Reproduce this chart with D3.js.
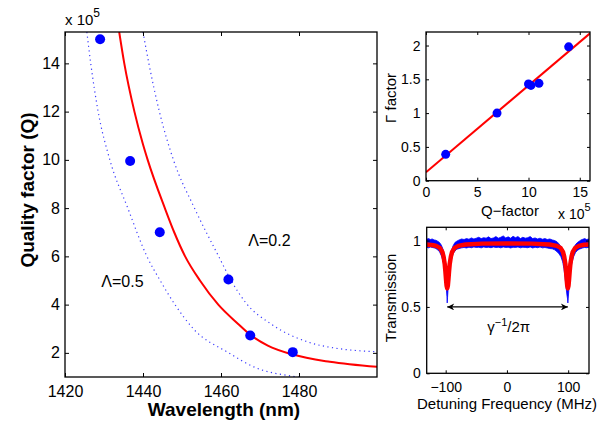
<!DOCTYPE html>
<html lang="en">
<head>
    <meta charset="UTF-8">
    <title>Quality factor</title>
    <script src="https://d3js.org/d3.v7.min.js"></script>
    <style>
        body { margin: 0; background: #fff; }
        svg { display: block; font-family: "Liberation Sans", Arial, sans-serif; }
        .frame { fill: none; stroke: black; stroke-width: 1.3; }
        .tick line { stroke: black; stroke-width: 1; }
        .tick text { fill: black; }
        .domain { display: none; }
    </style>
</head>
<body>
<script>
    const width = 616;
    const height = 426;

    // main panel: measured points
    const wavelength = [1429, 1436.7, 1444.3, 1461.9, 1467.5, 1478.4];
    const quality    = [15.0, 9.95, 7.0, 5.04, 2.72, 2.03];

    // main panel: fit curve and the two bounding curves
    const fitCurve = [[1433.9,15.3],[1435.2,14],[1437.8,12],[1439.9,10.7],[1441.2,10],[1445.6,8],
        [1448,7],[1450.8,6],[1454.6,5],[1459.3,4],[1464.4,3.2],[1467.5,2.75],[1472,2.3],
        [1478.4,1.93],[1487.9,1.63],[1500,1.42]];
    const lambda02 = [[1440,15.3],[1441.5,14],[1444.2,12],[1447.8,10],[1453.2,8],[1459.4,6],
        [1462.6,5],[1466.4,4.07],[1472.8,3.2],[1482.3,2.45],[1490,2.18],[1497.3,2.07],[1500,2.05]];
    const lambda05 = [[1425.6,15.3],[1426.6,14],[1428.5,12],[1431.5,10],[1436.1,8],[1441,6],
        [1444.4,5],[1448.2,4],[1452.9,3],[1462,2],[1468.4,1.42],[1479.5,1.0],[1490,0.8]];
    const mainXTicks = [1420, 1440, 1460, 1480];
    const mainYTicks = [2, 4, 6, 8, 10, 12, 14];

    // top right panel: gamma vs Q
    const qFactor = [1.92, 6.93, 10.0, 10.24, 11.02, 13.92];
    const gammaF  = [0.39, 1.0, 1.43, 1.41, 1.44, 1.98];
    const gammaFitQ = [0, 16];
    const gammaFitG = [0.124, 2.18];
    const gXTicks = [0, 5, 10, 15];
    const gYTicks = [0, 0.5, 1, 1.5, 2];

    // bottom right panel: transmission trace
    const redF = [-131,-120,-115.5,-109.5,-105.5,-103.5,-101.5,-100.5,-99.5,-98.5,-97.5,-96.5,-95.5,
        -94.5,-93.5,-91.5,-89.5,-85.5,-79.5,-67.5,-40,0,40,69.5,81.5,87.5,91.5,93.5,95.5,96.5,97.5,
        98.5,99.5,100.5,101.5,102.5,103.5,105.5,107.5,111.5,117.5,126,134];
    const redT = [0.971,0.965,0.96,0.945,0.915,0.88,0.82,0.77,0.71,0.66,0.64,0.66,0.71,
        0.77,0.82,0.88,0.915,0.945,0.96,0.97,0.977,0.978,0.977,0.97,0.96,0.945,0.915,0.88,0.82,0.77,0.71,
        0.66,0.64,0.66,0.71,0.77,0.82,0.88,0.915,0.945,0.96,0.968,0.971];

    const blueF = [-131,-128,-125,-122,-119,-116,-113,-110,-107,-104,-102,-100.5,-99,-98,-97.5,-97,-96,
        -94.5,-93,-91,-88,-85,-82,-78,-74,-70,-66,-62,-58,-54,-50,-46,-42,-38,-34,-30,-26,-22,-18,-14,
        -10,-6,-2,2,6,10,14,18,22,26,30,34,38,42,46,50,54,58,62,66,70,74,78,82,85,88,91,93,95,96.5,98,
        99,99.5,100,101,102.5,104,106,109,112,115,118,121,124,127,130,134];
    const blueHi = [1.010,1.015,1.008,1.012,1.005,1.002,0.995,0.985,0.965,0.930,0.880,0.820,0.740,0.690,
        0.670,0.680,0.730,0.810,0.870,0.920,0.960,0.985,0.995,1.005,1.012,1.008,1.015,1.010,1.020,1.012,
        1.018,1.025,1.015,1.022,1.018,1.028,1.015,1.020,1.030,1.018,1.025,1.035,1.020,1.028,1.018,1.032,
        1.022,1.030,1.015,1.025,1.018,1.022,1.030,1.015,1.020,1.012,1.018,1.010,1.015,1.008,1.012,1.005,
        1.000,0.990,0.975,0.955,0.920,0.880,0.820,0.750,0.700,0.680,0.670,0.675,0.710,0.790,0.850,0.900,
        0.945,0.970,0.985,0.995,1.005,1.010,1.015,1.008,1.012];
    const blueLo = [0.950,0.945,0.952,0.948,0.945,0.940,0.930,0.915,0.885,0.840,0.780,0.720,0.640,0.580,
        0.530,0.570,0.640,0.720,0.800,0.850,0.900,0.920,0.935,0.940,0.945,0.948,0.944,0.950,0.946,0.952,
        0.948,0.950,0.945,0.952,0.948,0.950,0.946,0.952,0.948,0.950,0.945,0.952,0.948,0.950,0.944,0.950,
        0.948,0.952,0.945,0.950,0.948,0.946,0.952,0.944,0.950,0.946,0.952,0.945,0.948,0.944,0.940,0.938,
        0.930,0.915,0.900,0.880,0.840,0.790,0.720,0.650,0.590,0.560,0.530,0.560,0.620,0.700,0.770,0.830,
        0.880,0.910,0.925,0.935,0.940,0.945,0.948,0.946,0.950];
    const arrowF = [-97.5, 99.5];
    const arrowT = 0.5;
    const transXTicks = [-100, 0, 100];
    const transYTicks = [0, 0.5, 1];

    const svg = d3.select("body").append("svg")
        .attr("width", width).attr("height", height);

    const defs = svg.append("defs");
    ["start", "end"].forEach(function(k) {
        defs.append("marker")
            .attr("id", "arr-" + k)
            .attr("viewBox", "0 0 10 10")
            .attr("refX", 10).attr("refY", 5)
            .attr("markerWidth", 10).attr("markerHeight", 7)
            .attr("markerUnits", "userSpaceOnUse")
            .attr("orient", "auto-start-reverse")
            .append("path")
            .attr("d", "M0,0 L10,5 L0,10 L3,5 Z")
            .attr("fill", "black");
    });

    function clip(id, x, y) {
        defs.append("clipPath").attr("id", id).append("rect")
            .attr("x", x.range()[0]).attr("y", y.range()[1])
            .attr("width", x.range()[1] - x.range()[0])
            .attr("height", y.range()[0] - y.range()[1]);
    }

    // inward ticks on all four sides plus the box
    function frame(x, y, xt, yt, len, fs, xpad, ypad, xfmt, yfmt) {
        const g = svg.append("g");
        const x0 = x.range()[0], x1 = x.range()[1], y0 = y.range()[0], y1 = y.range()[1];
        const bx = g.append("g").attr("transform", `translate(0,${y0})`)
            .call(d3.axisBottom(x).tickValues(xt).tickSize(-len).tickFormat(xfmt))
            .style("font-size", fs + "px");
        bx.selectAll(".tick text").attr("y", xpad).attr("dy", "0.71em");
        g.append("g").attr("transform", `translate(0,${y1})`)
            .call(d3.axisTop(x).tickValues(xt).tickSize(-len).tickFormat(""));
        const ly = g.append("g").attr("transform", `translate(${x0},0)`)
            .call(d3.axisLeft(y).tickValues(yt).tickSize(-len).tickFormat(yfmt))
            .style("font-size", fs + "px");
        ly.selectAll(".tick text").attr("x", -ypad);
        g.append("g").attr("transform", `translate(${x1},0)`)
            .call(d3.axisRight(y).tickValues(yt).tickSize(-len).tickFormat(""));
        g.selectAll("g").attr("font-family", null).attr("font-size", null);
        g.append("rect").attr("class", "frame")
            .attr("x", x0).attr("y", y1).attr("width", x1 - x0).attr("height", y0 - y1);
    }

    function times10(x, y, fs) {
        const t = svg.append("text").attr("x", x).attr("y", y).style("font-size", fs + "px");
        t.append("tspan").text("x 10");
        t.append("tspan").attr("dy", -8).style("font-size", (fs - 3) + "px").text("5");
    }

    const minus = d => d3.format("")(d).replace("-", "\u2212");

    // ---------- main panel ----------
    const xMain = d3.scaleLinear().domain([1420, 1500]).range([65, 377]);
    const yMain = d3.scaleLinear().domain([1, 15.3]).range([377, 32]);
    clip("clipMain", xMain, yMain);

    const mainLine = d3.line().x(d => xMain(d[0])).y(d => yMain(d[1])).curve(d3.curveMonotoneX);
    const gm = svg.append("g").attr("clip-path", "url(#clipMain)");
    [lambda02, lambda05].forEach(function(c) {
        gm.append("path").attr("d", mainLine(c))
            .attr("fill", "none").attr("stroke", "#3a3aff").attr("stroke-width", 1.2)
            .attr("stroke-dasharray", "1.2,3.4");
    });
    gm.append("path").attr("d", mainLine(fitCurve))
        .attr("fill", "none").attr("stroke", "#ff0000").attr("stroke-width", 2);
    gm.selectAll("circle").data(wavelength).enter().append("circle")
        .attr("cx", d => xMain(d)).attr("cy", (d, i) => yMain(quality[i]))
        .attr("r", 5).attr("fill", "#0000ff");

    frame(xMain, yMain, mainXTicks, mainYTicks, 4, 16, 9, 5, d3.format("d"), d3.format("d"));
    times10(65, 25, 15);

    svg.append("text").attr("x", xMain(1467)).attr("y", yMain(6.45))
        .style("font-size", "16px").text("\u039B=0.2");
    svg.append("text").attr("x", xMain(1429.3)).attr("y", yMain(4.72))
        .style("font-size", "16px").text("\u039B=0.5");

    svg.append("text").attr("transform", "translate(34,190) rotate(-90)")
        .attr("text-anchor", "middle").style("font-size", "19px").style("font-weight", "bold")
        .text("Quality factor (Q)");
    svg.append("text").attr("x", 224).attr("y", 416)
        .attr("text-anchor", "middle").style("font-size", "19px").style("font-weight", "bold")
        .text("Wavelength (nm)");

    // ---------- gamma panel ----------
    const xG = d3.scaleLinear().domain([0, 16]).range([426, 590]);
    const yG = d3.scaleLinear().domain([0, 2.2]).range([180.7, 32]);
    clip("clipG", xG, yG);
    const gg = svg.append("g").attr("clip-path", "url(#clipG)");
    gg.append("line")
        .attr("x1", xG(gammaFitQ[0])).attr("y1", yG(gammaFitG[0]))
        .attr("x2", xG(gammaFitQ[1])).attr("y2", yG(gammaFitG[1]))
        .attr("stroke", "#ff0000").attr("stroke-width", 2);
    gg.selectAll("circle").data(qFactor).enter().append("circle")
        .attr("cx", d => xG(d)).attr("cy", (d, i) => yG(gammaF[i]))
        .attr("r", 4.5).attr("fill", "#0000ff");
    frame(xG, yG, gXTicks, gYTicks, 3, 14, 6.5, 5.5, d3.format("d"), d3.format(""));
    times10(558, 219, 14);
    svg.append("text").attr("x", 510).attr("y", 216).attr("text-anchor", "middle")
        .style("font-size", "15px").text("Q\u2212factor");
    svg.append("text").attr("transform", "translate(396,98) rotate(-90)")
        .attr("text-anchor", "middle").style("font-size", "15px").text("\u0393 factor");

    // ---------- transmission panel ----------
    const xT = d3.scaleLinear().domain([-131, 134]).range([426.7, 589]);
    const yT = d3.scaleLinear().domain([0, 1.1]).range([373.3, 227.3]);
    clip("clipT", xT, yT);
    const gt = svg.append("g").attr("clip-path", "url(#clipT)");
    gt.append("path")
        .attr("d", d3.area().x(d => xT(d)).y0((d, i) => yT(blueLo[i])).y1((d, i) => yT(blueHi[i]))(blueF))
        .attr("fill", "#0000ff").attr("stroke", "#0000ff").attr("stroke-width", 0.8);
    gt.append("path")
        .attr("d", d3.line().x(d => xT(d)).y((d, i) => yT(redT[i]))(redF))
        .attr("fill", "none").attr("stroke", "#ff0000").attr("stroke-width", 4.5)
        .attr("stroke-linejoin", "round");
    svg.append("line")
        .attr("x1", xT(arrowF[0])).attr("x2", xT(arrowF[1]))
        .attr("y1", yT(arrowT)).attr("y2", yT(arrowT))
        .attr("stroke", "black").attr("stroke-width", 1.2)
        .attr("marker-start", "url(#arr-start)").attr("marker-end", "url(#arr-end)");
    const gl = svg.append("text").attr("x", xT(3)).attr("y", yT(0.31))
        .attr("text-anchor", "middle").style("font-size", "15px");
    gl.append("tspan").text("\u03B3");
    gl.append("tspan").attr("dy", -6).style("font-size", "11px").text("\u22121");
    gl.append("tspan").attr("dy", 6).text("/2\u03C0");

    frame(xT, yT, transXTicks, transYTicks, 3, 14, 8.5, 6, minus, d3.format(""));
    svg.append("text").attr("x", 507).attr("y", 409).attr("text-anchor", "middle")
        .style("font-size", "15px").text("Detuning Frequency (MHz)");
    svg.append("text").attr("transform", "translate(396,298) rotate(-90)")
        .attr("text-anchor", "middle").style("font-size", "15px").text("Transmission");
</script>
</body>
</html>
